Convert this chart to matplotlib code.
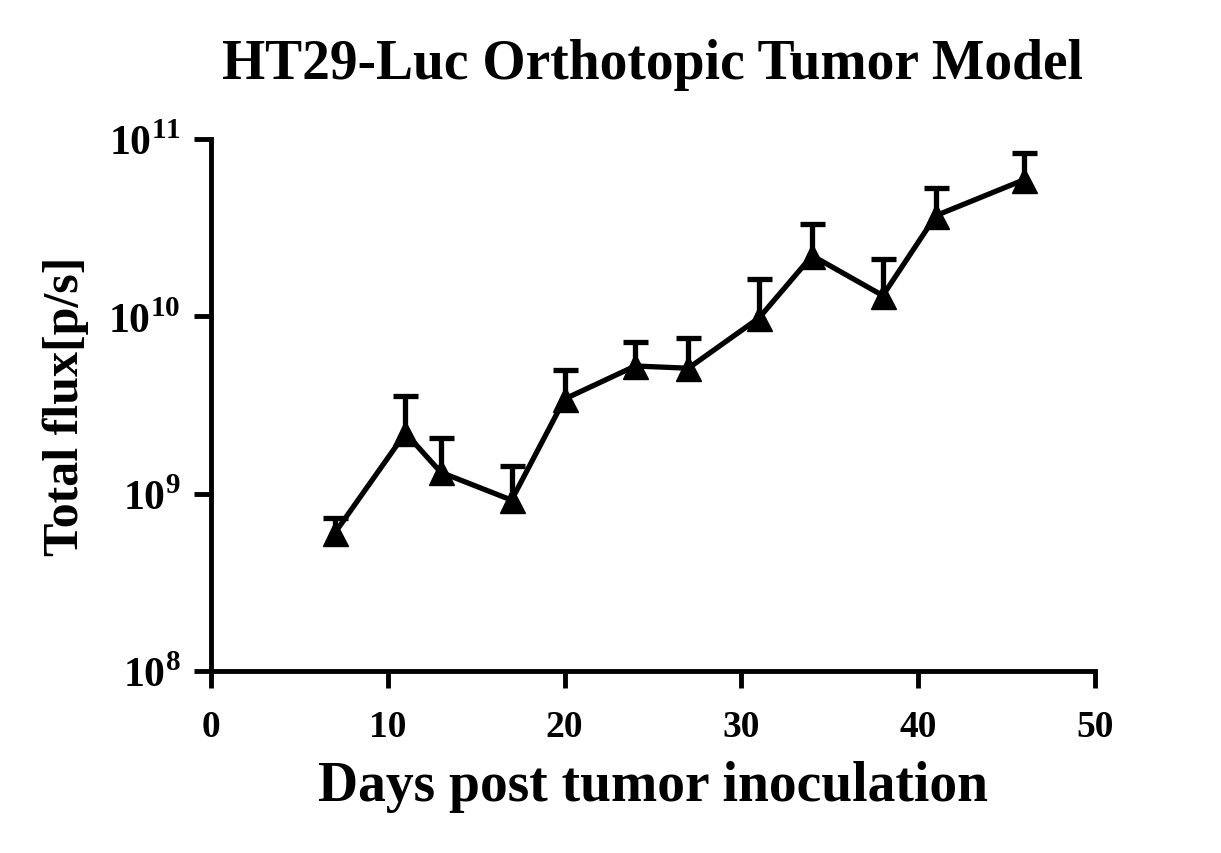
import matplotlib
matplotlib.use("Agg")
import matplotlib.pyplot as plt
from matplotlib.ticker import FixedLocator, NullLocator

plt.rcParams['font.family'] = ['Liberation Serif', 'DejaVu Serif']
plt.rcParams['font.weight'] = 'bold'
plt.rcParams['mathtext.fontset'] = 'custom'
plt.rcParams['mathtext.rm'] = 'Liberation Serif:bold'
plt.rcParams['mathtext.bf'] = 'Liberation Serif:bold'

# days post inoculation, mean flux and upper error (SEM)
days = [7, 11, 13, 17, 20, 24, 27, 31, 34, 38, 41, 46]
flux = [6.0e8, 2.2e9, 1.32e9, 9.2e8, 3.42e9, 5.25e9, 5.1e9, 9.8e9, 2.2e10, 1.31e10, 3.7e10, 5.9e10]
flux_top = [7.3e8, 3.55e9, 2.05e9, 1.44e9, 5.0e9, 7.2e9, 7.6e9, 1.62e10, 3.3e10, 2.12e10, 5.3e10, 8.3e10]
x_ticks = [0, 10, 20, 30, 40, 50]
y_ticks = [1e8, 1e9, 1e10, 1e11]
y_tick_labels = [r'$10^{8}$', r'$10^{9}$', r'$10^{10}$', r'$10^{11}$']

upper = [t - f for t, f in zip(flux_top, flux)]
lower = [0] * len(flux)

fig = plt.figure(figsize=(12.21, 8.54), dpi=100)
ax = fig.add_axes([0.1728, 0.2131, 0.7240, 0.6229])

eb = ax.errorbar(days, flux, yerr=[lower, upper], fmt='none', ecolor='black',
                 elinewidth=3.8, capsize=9, capthick=3.8, zorder=2)
# only the upper half of the error bar is shown
eb[1][0].set_visible(False)
ax.plot(days, flux, color='black', lw=3.8, marker='^', markersize=18, zorder=3)

ax.set_yscale('log')
ax.set_xlim(0, 50)
ax.set_ylim(1e8, 1e11)
ax.xaxis.set_major_locator(FixedLocator(x_ticks))
ax.set_yticks(y_ticks)
ax.set_yticklabels(y_tick_labels)
ax.yaxis.set_minor_locator(NullLocator())

for s in ['top', 'right']:
    ax.spines[s].set_visible(False)
for s in ['left', 'bottom']:
    ax.spines[s].set_linewidth(3.5)
ax.tick_params(axis='both', width=3.5, length=12, direction='out')
ax.tick_params(axis='x', labelsize=27, pad=15)
ax.tick_params(axis='y', labelsize=30, pad=10)

ax.set_xlabel('Days post tumor inoculation', fontsize=40, fontweight='bold', labelpad=12)
ax.set_ylabel('Total flux[p/s]', fontsize=36, fontweight='bold', labelpad=14)
ax.set_title('HT29-Luc Orthotopic Tumor Model', fontsize=40, fontweight='bold', pad=44)

fig.savefig('out.png', dpi=100)
